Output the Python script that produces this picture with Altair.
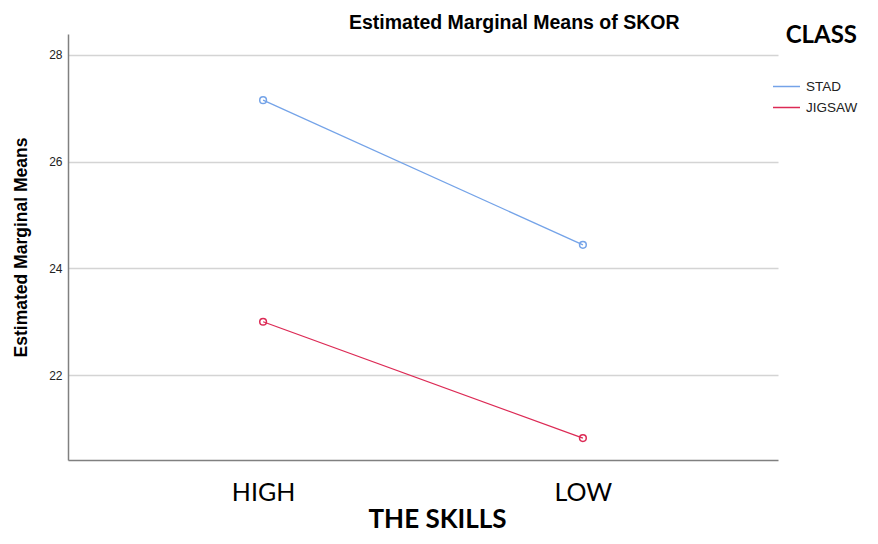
import altair as alt
import pandas as pd

skills = ["HIGH", "LOW"]
classes = ["STAD", "JIGSAW"]
stad_means = [27.15, 24.44]
jigsaw_means = [23.0, 20.82]
y_ticks = [22, 24, 26, 28]
colors = ["#74A3E8", "#DC2A55"]

rows = []
for s, v in zip(skills, stad_means):
    rows.append({"skill": s, "cls": "STAD", "mean": v})
for s, v in zip(skills, jigsaw_means):
    rows.append({"skill": s, "cls": "JIGSAW", "mean": v})
df = pd.DataFrame(rows)

chart = alt.Chart(df).mark_line(
    strokeWidth=1.3,
    point=alt.OverlayMarkDef(filled=False, size=45, strokeWidth=1.5),
).encode(
    x=alt.X("skill:N", sort=skills,
            scale=alt.Scale(type="point", padding=0.61),
            axis=alt.Axis(title="THE SKILLS", labelAngle=0, labelFont="Lato",
                          labelFontSize=25, labelColor="#000", labelPadding=20,
                          ticks=False, grid=False, domainColor="#808080",
                          domainWidth=1.5, titleFont="Lato", titleFontSize=26,
                          titleFontWeight="bold", titleColor="#000",
                          titlePadding=1, titleX=369)),
    y=alt.Y("mean:Q",
            scale=alt.Scale(domain=[20.41, 28.39], nice=False, zero=False),
            axis=alt.Axis(title="Estimated Marginal Means", values=y_ticks,
                          format="d", labelFont="Liberation Sans",
                          labelFontSize=12, labelColor="#222", labelPadding=6,
                          ticks=False, grid=True, gridColor="#d4d4d4",
                          gridWidth=1.5, domainColor="#808080", domainWidth=1.5,
                          titleFont="Liberation Sans", titleFontSize=17.5,
                          titleFontWeight="bold", titleColor="#000",
                          titlePadding=18)),
    color=alt.Color("cls:N",
                    scale=alt.Scale(domain=classes, range=colors),
                    legend=alt.Legend(title="CLASS", orient="none",
                                      legendX=704, legendY=-10,
                                      symbolType="stroke", symbolSize=729,
                                      symbolStrokeWidth=1.5, labelOffset=5,
                                      labelFont="Liberation Sans",
                                      labelFontSize=13.5, labelColor="#222",
                                      rowPadding=-5,
                                      titleFont="Lato", titleFontSize=24,
                                      titleFontWeight="bold", titleColor="#000",
                                      titleAnchor="end", titleAlign="right",
                                      titlePadding=24)),
).properties(
    width=710,
    height=426,
    title=alt.TitleParams("Estimated Marginal Means of SKOR",
                          font="Liberation Sans", fontSize=19.5,
                          fontWeight="bold", color="#000", frame="group",
                          anchor="start", dx=281, offset=8, dy=17),
    autosize=alt.AutoSizeParams(type="none"),
    padding={"left": 60, "top": 26, "right": 84, "bottom": 74},
).configure(background="white").configure_view(stroke=None, strokeWidth=0)

chart.save("out.html", embed_options={"renderer": "svg", "actions": False})
